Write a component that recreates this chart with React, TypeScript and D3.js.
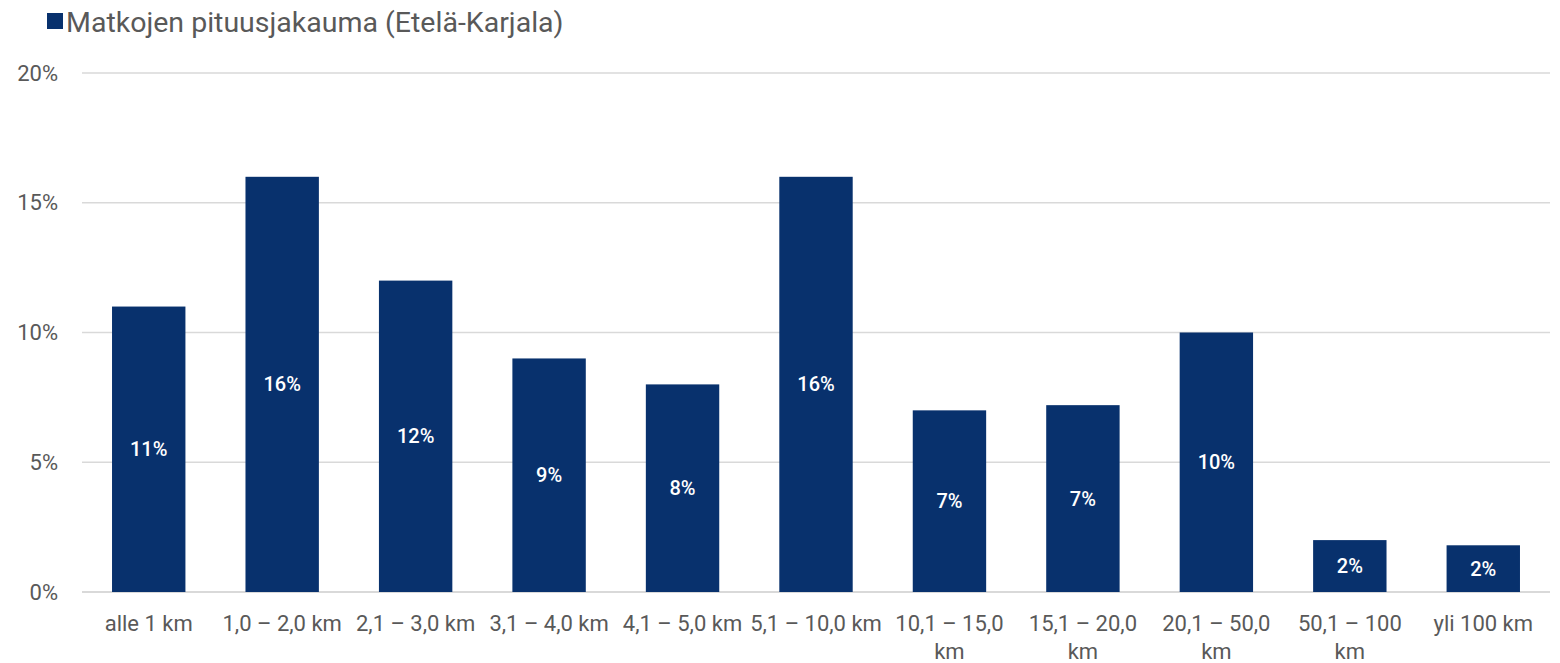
import React from "react";
import * as d3 from "d3";

const categories = [
  "alle 1 km",
  "1,0 – 2,0 km",
  "2,1 – 3,0 km",
  "3,1 – 4,0 km",
  "4,1 – 5,0 km",
  "5,1 – 10,0 km",
  "10,1 – 15,0 km",
  "15,1 – 20,0 km",
  "20,1 – 50,0 km",
  "50,1 – 100 km",
  "yli 100 km",
];
const values = [11, 16, 12, 9, 8, 16, 7, 7.2, 10, 2, 1.8];
const yTicks = [0, 5, 10, 15, 20];
const seriesName = "Matkojen pituusjakauma (Etelä-Karjala)";

const W = 1560;
const H = 663;
const FONT = "Roboto, 'Noto Sans', sans-serif";
const TEXT = "#595959";
const BAR = "#08316d";

let ctx: CanvasRenderingContext2D | null = null;
function measure(t: string, font: string) {
  if (!ctx) ctx = document.createElement("canvas").getContext("2d");
  if (!ctx) return t.length * 10;
  ctx.font = font;
  return ctx.measureText(t).width;
}

function wrap(label: string, maxW: number, font: string): string[] {
  if (measure(label, font) <= maxW) return [label];
  const idx = label.lastIndexOf(" ");
  return [label.slice(0, idx), label.slice(idx + 1)];
}

export default function App() {
  const margin = { left: 82, right: 10, top: 73, bottom: 71 };
  const x = d3
    .scaleBand<string>()
    .domain(categories)
    .range([margin.left, W - margin.right])
    .paddingInner(0.45)
    .paddingOuter(0.225);
  const y = d3.scaleLinear().domain([0, 20]).range([H - margin.bottom, margin.top]);
  const labelSize = 22;
  const labelFont = `400 ${labelSize}px Roboto`;
  const step = x.step();

  return (
    <svg
      width={W}
      height={H}
      style={{ position: "absolute", left: 0, top: 0, background: "#fff" }}
      fontFamily={FONT}
    >
      {/* legend */}
      <rect x={47} y={13} width={16} height={16} fill={BAR} />
      <text x={66} y={22} dominantBaseline="central" fontSize={28.5} fill={TEXT}>
        {seriesName}
      </text>
      {/* grid */}
      {yTicks.map((t) => (
        <g key={t}>
          <line
            x1={margin.left}
            x2={W - margin.right}
            y1={y(t)}
            y2={y(t)}
            stroke="#d9d9d9"
            strokeWidth={t === 0 ? 2 : 1.3}
          />
          <text
            x={58}
            y={y(t)}
            textAnchor="end"
            dominantBaseline="central"
            fontSize={22}
            fill={TEXT}
          >
            {t}%
          </text>
        </g>
      ))}
      {/* bars */}
      {categories.map((c, i) => {
        const v = values[i];
        const bx = x(c)!;
        const by = y(v);
        const bh = y(0) - by;
        const cx = bx + x.bandwidth() / 2;
        const lines = wrap(c, step, labelFont);
        return (
          <g key={c}>
            <rect x={bx} y={by} width={x.bandwidth()} height={bh} fill={BAR} />
            <text
              x={cx}
              y={by + bh / 2}
              textAnchor="middle"
              dominantBaseline="central"
              fontSize={20}
              fontWeight={500}
              fill="#fff"
            >
              {Math.round(v)}%
            </text>
            {lines.map((l, j) => (
              <text
                key={j}
                x={cx}
                y={623 + j * 28}
                textAnchor="middle"
                dominantBaseline="central"
                fontSize={labelSize}
                fill={TEXT}
              >
                {l}
              </text>
            ))}
          </g>
        );
      })}
    </svg>
  );
}
